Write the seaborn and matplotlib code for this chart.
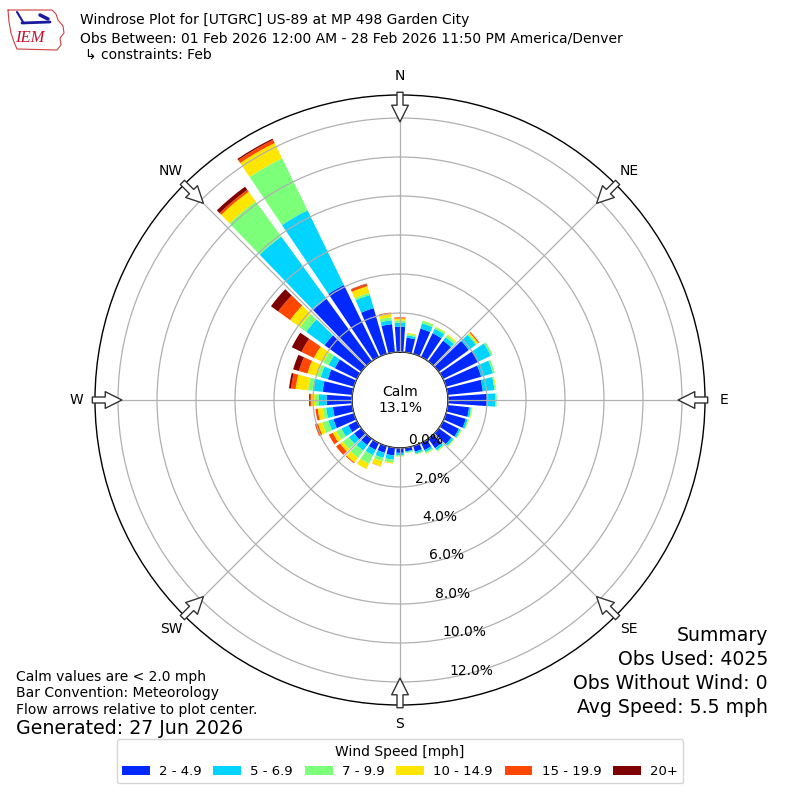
import numpy as np
import matplotlib
matplotlib.use("Agg")
import matplotlib.pyplot as plt
import seaborn as sns
from matplotlib.patches import Patch
from matplotlib.lines import Line2D

# --------------------------
# Data (percent of observations per 10 degree sector)
# --------------------------
directions = list(range(0, 360, 10))
speed_bins = ["2 - 4.9", "5 - 6.9", "7 - 9.9", "10 - 14.9", "15 - 19.9", "20+"]
speed_colors = ["#0028ff", "#00d4ff", "#7cff79", "#ffe600", "#ff4700", "#7f0000"]

spd_2_5 = [1.30, 0.75, 1.35, 1.35, 1.30, 1.90, 2.03, 1.87, 1.81, 2.02,
           1.10, 1.05, 0.90, 0.80, 0.60, 0.40, 0.30, 0.18, 0.25, 0.40,
           0.36, 0.39, 0.40, 0.45, 0.49, 1.09, 1.00, 1.30, 1.53, 1.39,
           1.26, 2.32, 3.95, 4.10, 2.44, 1.45]
spd_5_7 = [0.20, 0.12, 0.28, 0.25, 0.22, 0.45, 0.70, 0.63, 0.60, 0.42,
           0.10, 0.10, 0.10, 0.12, 0.13, 0.12, 0.10, 0.05, 0.12, 0.22,
           0.27, 0.30, 0.35, 0.33, 0.39, 0.27, 0.35, 0.40, 0.52, 0.38,
           0.36, 1.17, 3.95, 4.26, 0.70, 0.20]
spd_7_10 = [0.12, 0.08, 0.13, 0.10, 0.12, 0.08, 0.10, 0.10, 0.05, 0.06,
            0.05, 0.05, 0.05, 0.05, 0.06, 0.06, 0.05, 0.04, 0.05, 0.15,
            0.18, 0.49, 0.45, 0.38, 0.30, 0.33, 0.17, 0.20, 0.23, 0.18,
            0.30, 0.40, 2.23, 2.97, 0.12, 0.15]
spd_10_15 = [0.10, 0.05, 0.02, 0.03, 0.06, 0.07, 0.00, 0.00, 0.04, 0.00,
             0.03, 0.02, 0.02, 0.02, 0.02, 0.02, 0.01, 0.00, 0.02, 0.05,
             0.27, 0.30, 0.30, 0.18, 0.20, 0.22, 0.26, 0.20, 0.64, 0.53,
             0.53, 0.62, 0.61, 0.87, 0.35, 0.20]
spd_15_20 = [0.06, 0.00, 0.00, 0.00, 0.00, 0.06, 0.00, 0.00, 0.00, 0.00,
             0.00, 0.00, 0.00, 0.00, 0.00, 0.00, 0.00, 0.00, 0.00, 0.00,
             0.01, 0.00, 0.05, 0.25, 0.22, 0.17, 0.12, 0.06, 0.24, 0.45,
             0.71, 0.75, 0.12, 0.18, 0.12, 0.05]
spd_20_up = [0.00, 0.00, 0.00, 0.00, 0.00, 0.00, 0.00, 0.00, 0.00, 0.00,
             0.00, 0.00, 0.00, 0.00, 0.00, 0.00, 0.00, 0.00, 0.00, 0.00,
             0.00, 0.00, 0.00, 0.00, 0.00, 0.00, 0.00, 0.04, 0.10, 0.31,
             0.55, 0.46, 0.20, 0.07, 0.02, 0.00]
speed_series = [spd_2_5, spd_5_7, spd_7_10, spd_10_15, spd_15_20, spd_20_up]

calm_pct = 13.1
ring_values = [0, 2, 4, 6, 8, 10, 12]
compass = ["N", "NE", "E", "SE", "S", "SW", "W", "NW"]

# --------------------------
# Style
# --------------------------
sns.set_style("white")
plt.rcParams['font.family'] = ['DejaVu Sans']
plt.rcParams['text.color'] = 'black'
plt.rcParams['xtick.color'] = 'black'
plt.rcParams['ytick.color'] = 'black'
plt.rcParams['axes.labelcolor'] = 'black'
palette = sns.color_palette(speed_colors)

fig = plt.figure(figsize=(8, 8), dpi=100)
ax = fig.add_axes([0.11875, 0.11875, 0.7625, 0.7625], projection='polar')
ax.set_theta_zero_location('N')
ax.set_theta_direction(-1)

theta = np.deg2rad(directions)
width = np.deg2rad(8)
bottom = np.zeros(len(directions))
for vals, color in zip(speed_series, palette):
    vals = np.array(vals)
    ax.bar(theta, vals, width=width, bottom=bottom, color=color,
           edgecolor='none', zorder=2)
    bottom += vals

rmax = 13.18
ax.set_rorigin(-2.46)
ax.set_ylim(0, rmax)
ax.set_rgrids(ring_values, labels=[f"{v:.1f}%" for v in ring_values],
              angle=170, fontsize=10)
ax.set_xticks(np.deg2rad(range(0, 360, 45)))
ax.set_xticklabels([])
ax.grid(True, color='#b0b0b0', lw=0.9, zorder=3)
ax.set_axisbelow(False)
for sp in ax.spines.values():
    sp.set_color('black')
    sp.set_linewidth(1.0)

# compass labels and flow arrows
for i, lab in enumerate(compass):
    t = np.deg2rad(i * 45)
    ax.text(t, 14.15, lab, ha='center', va='center', fontsize=10)
    ax.annotate("", xy=(t, 11.8), xytext=(t, 13.32),
                xycoords='data', textcoords='data', annotation_clip=False,
                arrowprops=dict(arrowstyle="simple,head_length=1.0,head_width=1.0,tail_width=0.36",
                                fc='white', ec='#333333', lw=1.0,
                                shrinkA=0, shrinkB=0, mutation_scale=12))

ax.text(0, -2.46, f"Calm\n{calm_pct}%", ha='center', va='center', fontsize=10)

# --------------------------
# IEM logo (rough outline)
# --------------------------
logo_px = [(8, 10), (52, 10), (56, 14), (58, 20), (63, 26), (64, 33), (60, 38),
           (61, 45), (57, 50), (17, 49), (14, 42), (11, 33), (9, 22), (8, 10)]
fig.add_artist(Line2D([p[0] / 800 for p in logo_px], [1 - p[1] / 800 for p in logo_px],
                      color='#d04040', lw=0.8, transform=fig.transFigure))
fig.add_artist(Line2D([22 / 800, 50 / 800], [1 - 23 / 800, 1 - 22 / 800],
                      color='#1a1aa0', lw=2.0, transform=fig.transFigure))
fig.add_artist(Line2D([17 / 800, 23 / 800], [1 - 12 / 800, 1 - 22 / 800],
                      color='#1a1aa0', lw=1.5, transform=fig.transFigure))
fig.add_artist(Line2D([40 / 800, 48 / 800], [1 - 15 / 800, 1 - 19 / 800],
                      color='#1a1aa0', lw=2.5, transform=fig.transFigure))
fig.text(30 / 800, 1 - 38 / 800, "IEM", ha='center', va='center', fontsize=12,
         family='Liberation Serif', style='italic', color='#c8102e')

# --------------------------
# Header / footer texts
# --------------------------
fig.text(0.1, 0.975, "Windrose Plot for [UTGRC] US-89 at MP 498 Garden City",
         ha='left', va='center', fontsize=10)
fig.text(0.1, 0.9525, "Obs Between: 01 Feb 2026 12:00 AM - 28 Feb 2026 11:50 PM America/Denver",
         ha='left', va='center', fontsize=10)
fig.text(0.106, 0.932, "\u21b3 constraints: Feb", ha='left', va='center', fontsize=10)

fig.text(0.02, 0.154, "Calm values are < 2.0 mph", ha='left', va='center', fontsize=10)
fig.text(0.02, 0.134, "Bar Convention: Meteorology", ha='left', va='center', fontsize=10)
fig.text(0.02, 0.1125, "Flow arrows relative to plot center.", ha='left', va='center', fontsize=10)
fig.text(0.02, 0.089, "Generated: 27 Jun 2026", ha='left', va='center', fontsize=13.7)

summary = ["Summary", "Obs Used: 4025", "Obs Without Wind: 0", "Avg Speed: 5.5 mph"]
for k, line in enumerate(summary):
    fig.text(0.96, 0.206 - k * 0.03, line, ha='right', va='center', fontsize=13.6)

handles = [Patch(facecolor=c, edgecolor='none') for c in palette]
fig.legend(handles, speed_bins, ncol=6, loc='lower center',
           bbox_to_anchor=(0.5, 0.0125), title="Wind Speed [mph]",
           fontsize=9.5, title_fontsize=10, handlelength=2.1,
           handletextpad=0.7, columnspacing=0.9)

fig.savefig("out.png", dpi=100)
